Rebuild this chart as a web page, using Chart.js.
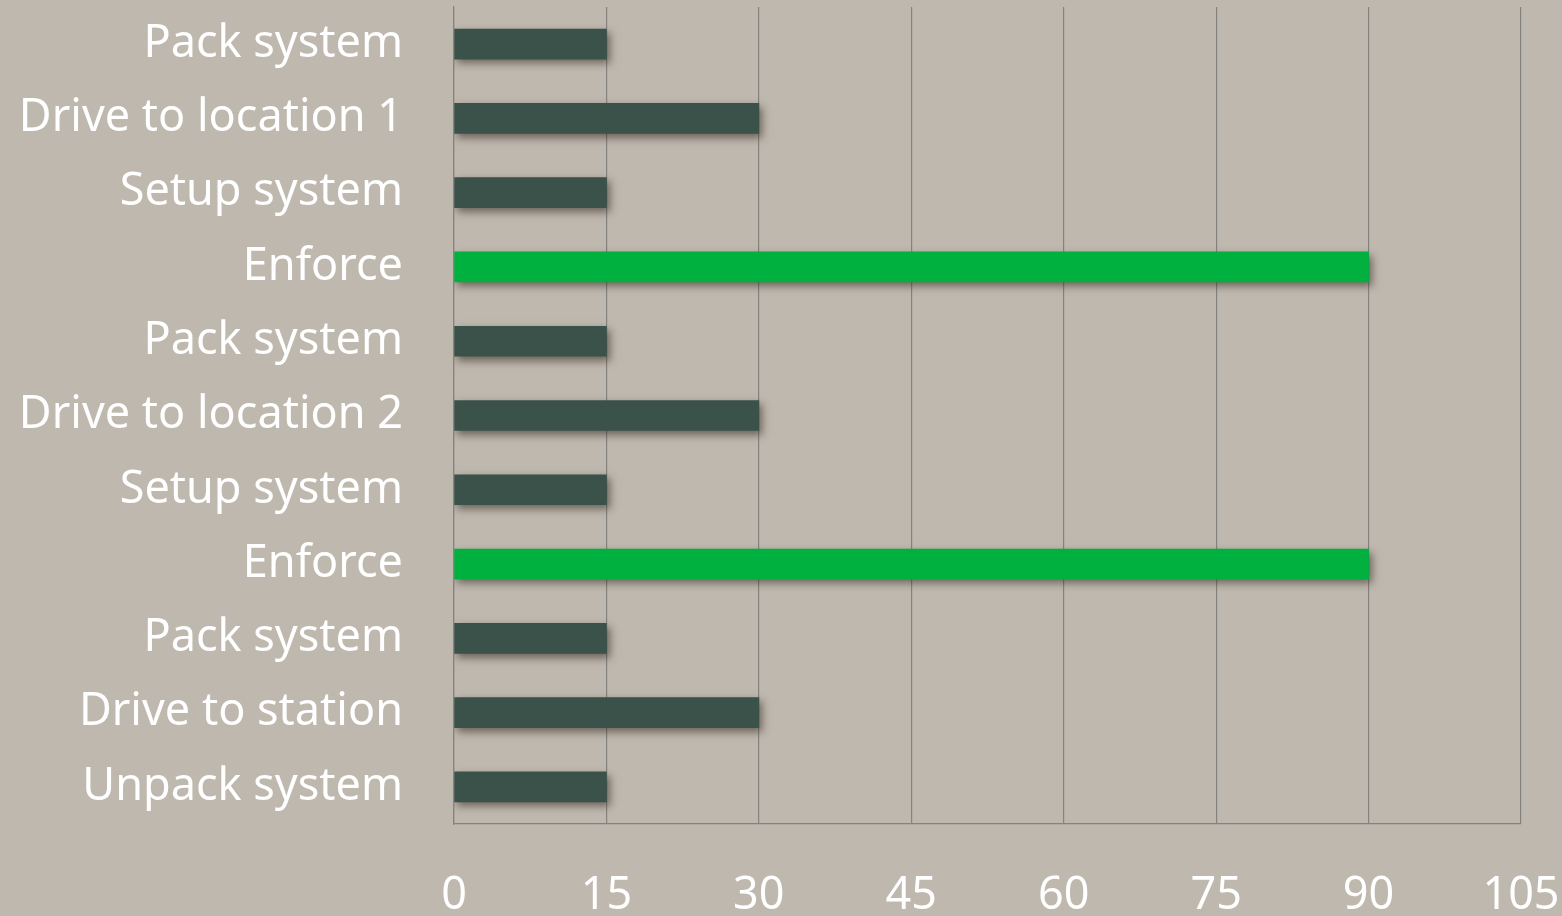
<!DOCTYPE html>
<html>
<head>
<meta charset="utf-8">
<script src="https://cdn.jsdelivr.net/npm/chart.js@4"></script>
<style>
  html, body { margin: 0; padding: 0; background: #bfb8ae; }
  #wrap { width: 1562px; height: 916px; }
</style>
</head>
<body>
<div id="wrap"><canvas id="chart" width="1562" height="916"></canvas></div>
<script>
/* ── DATA ──────────────────────────────────────────────────── */
const categories = [
  'Pack system', 'Drive to location 1', 'Setup system', 'Enforce',
  'Pack system', 'Drive to location 2', 'Setup system', 'Enforce',
  'Pack system', 'Drive to station', 'Unpack system'
];
const minutes = [15, 30, 15, 90, 15, 30, 15, 90, 15, 30, 15];
const xTicks  = [0, 15, 30, 45, 60, 75, 90, 105];

/* ── COLOURS ───────────────────────────────────────────────── */
const BAR_DARK  = '#3a5249';
const BAR_GREEN = '#00b140';
const GRID      = '#858380';
const barColors = categories.map(c => c === 'Enforce' ? BAR_GREEN : BAR_DARK);
const FONT      = { family: "'Noto Sans', sans-serif", size: 45 };

/* Soft drop shadow under the bars */
const barShadow = {
  id: 'barShadow',
  beforeDatasetsDraw(chart) {
    const ctx = chart.ctx;
    ctx.save();
    ctx.shadowColor   = 'rgba(40,30,20,0.55)';
    ctx.shadowBlur    = 8;
    ctx.shadowOffsetX = 3;
    ctx.shadowOffsetY = 4;
  },
  afterDatasetsDraw(chart) { chart.ctx.restore(); }
};

new Chart(document.getElementById('chart'), {
  type: 'bar',
  data: {
    labels: categories,
    datasets: [{
      data: minutes,
      backgroundColor: barColors,
      borderWidth: 0,
      barThickness: 30,
    }],
  },
  options: {
    indexAxis: 'y',
    responsive: false,
    animation: false,
    layout: { padding: { top: 7, right: 41, left: 0, bottom: 0 } },
    plugins: { legend: { display: false }, tooltip: { enabled: false } },
    scales: {
      x: {
        min: 0, max: 105,
        afterBuildTicks: s => { s.ticks = xTicks.map(v => ({ value: v })); },
        afterFit: s => { s.height = 92; s.paddingLeft = 0; s.paddingRight = 0; },
        grid:   { color: GRID, lineWidth: 1.2, drawTicks: false },
        border: { color: GRID, width: 1.2 },
        ticks:  { color: '#ffffff', padding: 45, font: FONT },
      },
      y: {
        afterFit: s => { s.width = 454; s.paddingTop = 0; s.paddingBottom = 0; },
        grid:   { display: false, drawTicks: false },
        border: { color: GRID, width: 1.2 },
        ticks:  { color: '#ffffff', padding: 51, font: FONT },
      },
    },
  },
  plugins: [barShadow],
});
</script>
</body>
</html>
